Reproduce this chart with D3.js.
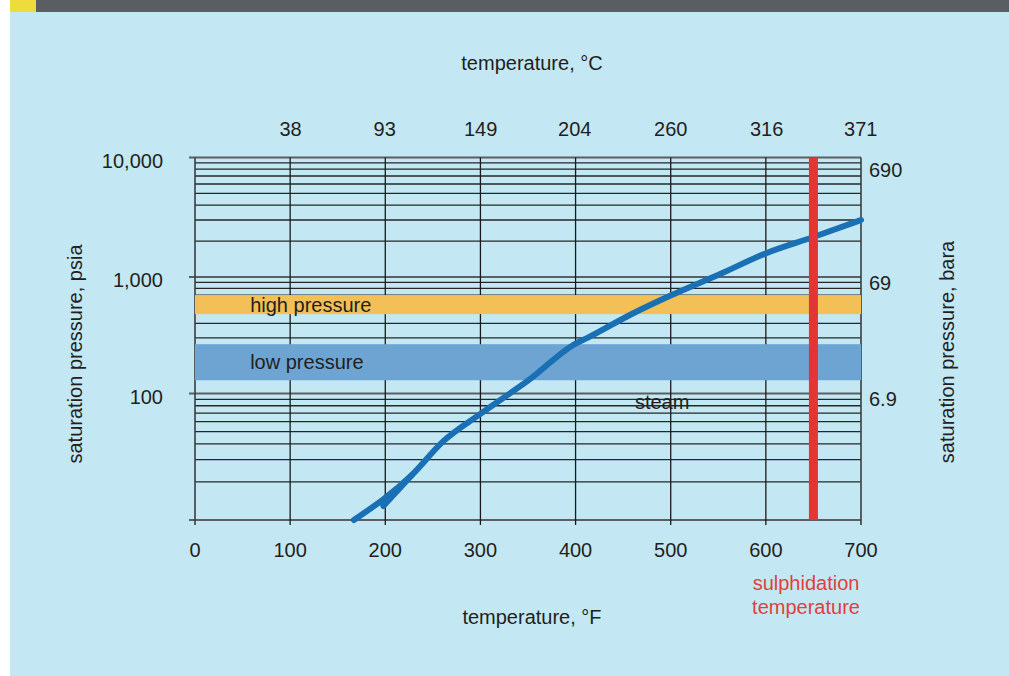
<!DOCTYPE html>
<html>
<head>
<meta charset="utf-8">
<script src="https://cdn.jsdelivr.net/npm/d3@7/dist/d3.min.js"></script>
<style>
  html, body { margin: 0; padding: 0; background: #ffffff; }
  svg { display: block; }
  text { font-family: "Liberation Sans", Arial, sans-serif; fill: #231f20; }
</style>
</head>
<body>
<svg id="chart" width="1009" height="676"></svg>
<script>
// Temperature ticks (°F bottom, °C top)
const fahrenheitTicks = [0, 100, 200, 300, 400, 500, 600, 700];
const celsiusTicks = [38, 93, 149, 204, 260, 316, 371];

// Pressure ticks (psia left, bara right)
const psiaTicks = [10000, 1000, 100];
const psiaLabels = ["10,000", "1,000", "100"];
const baraTicks = [690, 69, 6.9];
const baraLabels = ["690", "69", "6.9"];

// Saturation curve of steam: temperature (°F) vs pressure (psia)
const curveTemps = [167, 228, 261, 300, 351, 401, 412, 457, 501, 552, 601, 650, 700];
const curvePsia = [10, 22.7, 42, 69, 131, 271, 299, 472, 700, 1060, 1590, 2160, 3000];

// Short overlapping stroke near the lower end of the curve
const stubTemps = [198, 228];
const stubPsia = [12.9, 22.7];

// Pressure bands (psia)
const bandNames = ["high pressure", "low pressure"];
const bandLow = [480, 130];
const bandHigh = [700, 265];

// Sulphidation temperature (°F)
const sulphidationTemp = 650;

(function () {
  const svg = d3.select("#chart");
  const W = 1009, H = 676;

  // Page frame
  svg.append("rect").attr("x", 10).attr("y", 0).attr("width", W - 10).attr("height", H).attr("fill", "#c4e8f3");
  svg.append("rect").attr("x", 10).attr("y", 0).attr("width", W - 10).attr("height", 12).attr("fill", "#5a5d61");
  svg.append("rect").attr("x", 10).attr("y", 0).attr("width", 26).attr("height", 12).attr("fill", "#eedc3c");

  const pL = 195, pR = 861, pT = 157.5, pB = 520;

  const x = d3.scaleLinear().domain([0, 700]).range([pL, pR]);
  // log axis, each decade laid out on its own span
  const yLog = d3.scaleLinear().domain([1, 2, 3, 4]).range([pB, 393.5, 277, pT]);
  const y = v => yLog(Math.log10(v));

  const g = svg.append("g");

  // Horizontal grid: minor lines inside each decade
  const minorVals = [];
  [10, 100, 1000].forEach(d => { for (let k = 2; k <= 9; k++) minorVals.push(d * k); });
  g.selectAll("line.hminor").data(minorVals).join("line")
    .attr("x1", pL).attr("x2", pR)
    .attr("y1", d => y(d)).attr("y2", d => y(d))
    .attr("stroke", "#262626").attr("stroke-width", 1.3);

  // Horizontal grid: decade lines with outer ticks
  g.selectAll("line.hmajor").data([10, 100, 1000, 10000]).join("line")
    .attr("x1", pL - 6).attr("x2", pR)
    .attr("y1", d => y(d)).attr("y2", d => y(d))
    .attr("stroke", "#5a5f62").attr("stroke-width", 2);

  // Vertical grid with ticks below the frame
  g.selectAll("line.v").data(fahrenheitTicks).join("line")
    .attr("x1", d => x(d)).attr("x2", d => x(d))
    .attr("y1", pT).attr("y2", pB + 5)
    .attr("stroke", d => (d === 0 || d === 700) ? "#3a3d40" : "#1a1a1a")
    .attr("stroke-width", d => (d === 0 || d === 700) ? 1.6 : 1.3);

  // Pressure bands
  const bandFill = ["#f2c057", "#6ea4d1"];
  bandNames.forEach((name, i) => {
    g.append("rect")
      .attr("x", pL).attr("width", pR - pL)
      .attr("y", y(bandHigh[i])).attr("height", y(bandLow[i]) - y(bandHigh[i]))
      .attr("fill", bandFill[i]);
    g.append("text")
      .attr("x", x(58)).attr("y", (y(bandHigh[i]) + y(bandLow[i])) / 2)
      .attr("dominant-baseline", "central")
      .attr("font-size", 20).text(name);
  });

  // "steam" label
  g.append("text").attr("x", x(491)).attr("y", y(100) + 8)
    .attr("text-anchor", "middle").attr("dominant-baseline", "central")
    .attr("font-size", 20).text("steam");

  // Saturation curve
  const line = d3.line().x(d => x(d[0])).y(d => y(d[1])).curve(d3.curveMonotoneX);
  g.append("path")
    .datum(curveTemps.map((t, i) => [t, curvePsia[i]]))
    .attr("d", line)
    .attr("fill", "none").attr("stroke", "#1a70b4").attr("stroke-width", 6)
    .attr("stroke-linecap", "round").attr("stroke-linejoin", "round");
  g.append("path")
    .datum(stubTemps.map((t, i) => [t, stubPsia[i]]))
    .attr("d", d3.line().x(d => x(d[0])).y(d => y(d[1])))
    .attr("fill", "none").attr("stroke", "#1a70b4").attr("stroke-width", 6)
    .attr("stroke-linecap", "round");

  // Sulphidation temperature line
  g.append("rect")
    .attr("x", x(sulphidationTemp) - 4.5).attr("width", 9)
    .attr("y", pT).attr("height", pB - pT)
    .attr("fill", "#e53434");

  // Bottom axis labels (°F)
  g.selectAll("text.f").data(fahrenheitTicks).join("text")
    .attr("x", d => x(d)).attr("y", 550)
    .attr("text-anchor", "middle").attr("dominant-baseline", "central")
    .attr("font-size", 20).text(d => d);

  // Top axis labels (°C)
  g.selectAll("text.c").data(celsiusTicks).join("text")
    .attr("x", d => x(d * 9 / 5 + 32)).attr("y", 129)
    .attr("text-anchor", "middle").attr("dominant-baseline", "central")
    .attr("font-size", 20).text(d => d);

  // Left axis labels (psia)
  g.selectAll("text.p").data(psiaTicks).join("text")
    .attr("x", 163).attr("y", d => y(d) + 3)
    .attr("text-anchor", "end").attr("dominant-baseline", "central")
    .attr("font-size", 20).text((d, i) => psiaLabels[i]);

  // Right axis labels (bara)
  const barToPsi = 14.5038;
  g.selectAll("text.b").data(baraTicks).join("text")
    .attr("x", 869).attr("y", d => Math.max(y(d * barToPsi) + 6, pT + 12.5))
    .attr("text-anchor", "start").attr("dominant-baseline", "central")
    .attr("font-size", 20).text((d, i) => baraLabels[i]);

  // Axis titles
  g.append("text").attr("x", 532).attr("y", 63)
    .attr("text-anchor", "middle").attr("dominant-baseline", "central")
    .attr("font-size", 20).text("temperature, °C");
  g.append("text").attr("x", 532).attr("y", 617)
    .attr("text-anchor", "middle").attr("dominant-baseline", "central")
    .attr("font-size", 20).text("temperature, °F");
  g.append("text")
    .attr("transform", "translate(75,354) rotate(-90)")
    .attr("text-anchor", "middle").attr("dominant-baseline", "central")
    .attr("font-size", 20).text("saturation pressure, psia");
  g.append("text")
    .attr("transform", "translate(947,352) rotate(-90)")
    .attr("text-anchor", "middle").attr("dominant-baseline", "central")
    .attr("font-size", 20).text("saturation pressure, bara");

  // Sulphidation note
  const note = g.append("text").attr("x", 806).attr("text-anchor", "middle")
    .attr("font-size", 20).style("fill", "#e53d3d");
  note.append("tspan").attr("x", 806).attr("y", 583).attr("dominant-baseline", "central").text("sulphidation");
  note.append("tspan").attr("x", 806).attr("y", 607).attr("dominant-baseline", "central").text("temperature");
})();
</script>
</body>
</html>
